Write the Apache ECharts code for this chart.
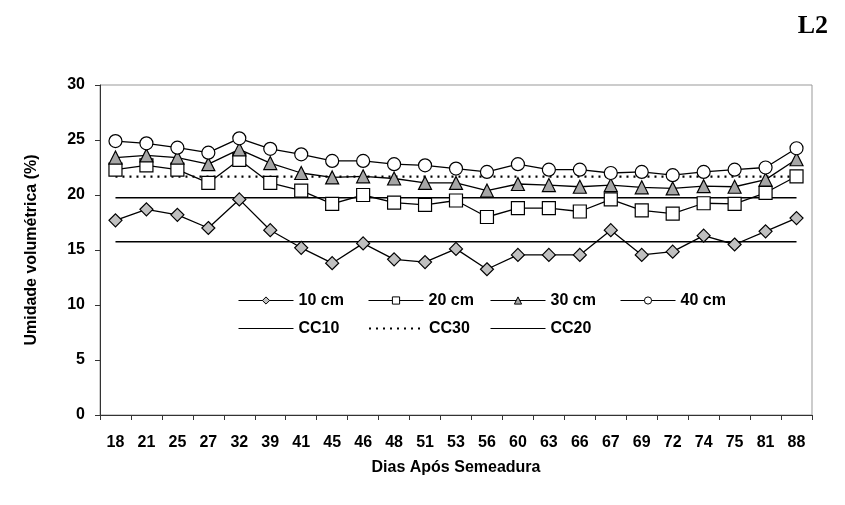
<!DOCTYPE html>
<html>
<head>
<meta charset="utf-8">
<script src="https://cdn.jsdelivr.net/npm/echarts@6/dist/echarts.min.js"></script>
<style>html,body{margin:0;padding:0;background:#fff}#c{width:845px;height:505px}</style>
</head>
<body>
<div id="c"></div>
<script>
const categories = ['18','21','25','27','32','39','41','45','46','48','51','53','56','60','63','66','67','69','72','74','75','81','88'];
const s10 = [17.7,18.7,18.2,17.0,19.6,16.8,15.2,13.8,15.6,14.15,13.9,15.1,13.25,14.55,14.55,14.55,16.8,14.55,14.85,16.3,15.5,16.7,17.9];
const s20 = [22.3,22.7,22.3,21.1,23.2,21.1,20.4,19.2,20.0,19.3,19.1,19.5,18.0,18.8,18.8,18.5,19.6,18.6,18.3,19.25,19.2,20.2,21.7];
const s30 = [23.4,23.6,23.4,22.8,24.15,22.9,22.0,21.6,21.7,21.5,21.1,21.1,20.4,21.0,20.9,20.75,20.9,20.7,20.6,20.8,20.75,21.4,23.25];
const s40 = [24.9,24.7,24.3,23.85,25.15,24.2,23.7,23.1,23.1,22.8,22.7,22.4,22.1,22.8,22.3,22.3,22.0,22.1,21.8,22.1,22.3,22.5,24.25];
const cc10 = 15.75;
const cc30 = 21.67;
const cc20 = 19.75;
const yTicks = {min: 0, max: 30, interval: 5};
const legendRow1 = ['10 cm', '20 cm', '30 cm', '40 cm'];
const legendRow2 = ['CC10', 'CC30', 'CC20'];

const font = '"Liberation Sans", Arial, sans-serif';
const chart = echarts.init(document.getElementById('c'), null, {renderer: 'canvas'});

function dataSeries(name, data, symbol, fill) {
  return {
    name, type: 'line', data, symbol, symbolSize: 13,
    lineStyle: {color: '#000', width: 1.3},
    itemStyle: {color: fill, borderColor: '#000', borderWidth: 1.2},
    emphasis: {disabled: true}, animation: false, z: 3
  };
}
function refSeries(name, value, type) {
  return {
    name, type: 'line', data: categories.map(() => value), symbol: 'none',
    lineStyle: {color: '#000', width: type === 'solid' ? 1.6 : 2.2, type: type === 'solid' ? 'solid' : [2, 5]},
    itemStyle: {color: '#000'},
    emphasis: {disabled: true}, animation: false, z: 2
  };
}

const legendText = {fontFamily: font, fontWeight: 'bold', fontSize: 16, color: '#000'};
const lefts = [238, 368, 490, 620];
const legends = [];
legendRow1.forEach((n, i) => legends.push({
  data: [n], left: lefts[i], top: 292.5, padding: 0, itemWidth: 55, itemHeight: 9,
  textStyle: legendText, itemStyle: {borderWidth: 1}, lineStyle: {width: 1, color: '#000'}, selectedMode: false
}));
legendRow2.forEach((n, i) => legends.push({
  data: [n], left: lefts[i], top: 320.5, padding: 0, itemWidth: 55, itemHeight: 9,
  textStyle: legendText, lineStyle: {width: n === 'CC30' ? 2 : 1, color: '#000'},
  itemStyle: {color: 'rgba(0,0,0,0)', borderColor: 'rgba(0,0,0,0)', borderWidth: 0}, selectedMode: false
}));

chart.setOption({
  animation: false,
  backgroundColor: '#fff',
  title: {text: 'L2', right: 12, top: 8, textStyle: {fontFamily: '"Liberation Serif", "Times New Roman", serif', fontWeight: 'bold', fontSize: 26, color: '#000'}},
  grid: {left: 100, right: 33, top: 85, bottom: 90, show: true, borderColor: '#999', borderWidth: 1, containLabel: false},
  legend: legends,
  xAxis: {
    type: 'category', data: categories, boundaryGap: true,
    name: 'Dias Após Semeadura', nameLocation: 'middle', nameGap: 45,
    nameTextStyle: {fontFamily: font, fontWeight: 'bold', fontSize: 16, color: '#000'},
    axisLine: {lineStyle: {color: '#333', width: 1}},
    axisTick: {show: true, length: 5, alignWithLabel: false, lineStyle: {color: '#333'}},
    axisLabel: {fontFamily: font, fontWeight: 'bold', fontSize: 16, color: '#000', margin: 20, interval: 0},
    splitLine: {show: false}
  },
  yAxis: {
    type: 'value', min: yTicks.min, max: yTicks.max, interval: yTicks.interval,
    name: 'Umidade volumétrica (%)', nameLocation: 'middle', nameGap: 60,
    nameTextStyle: {fontFamily: font, fontWeight: 'bold', fontSize: 16, color: '#000'},
    axisLine: {show: true, lineStyle: {color: '#333', width: 1}},
    axisTick: {show: true, length: 5, inside: false, lineStyle: {color: '#333'}},
    axisLabel: {fontFamily: font, fontWeight: 'bold', fontSize: 16, color: '#000', margin: 15},
    splitLine: {show: false}
  },
  series: [
    dataSeries('10 cm', s10, 'diamond', '#c0c0c0'),
    dataSeries('20 cm', s20, 'rect', '#fff'),
    dataSeries('30 cm', s30, 'triangle', '#a6a6a6'),
    dataSeries('40 cm', s40, 'circle', '#fff'),
    refSeries('CC10', cc10, 'solid'),
    refSeries('CC30', cc30, 'dotted'),
    refSeries('CC20', cc20, 'solid')
  ]
});
</script>
</body>
</html>
